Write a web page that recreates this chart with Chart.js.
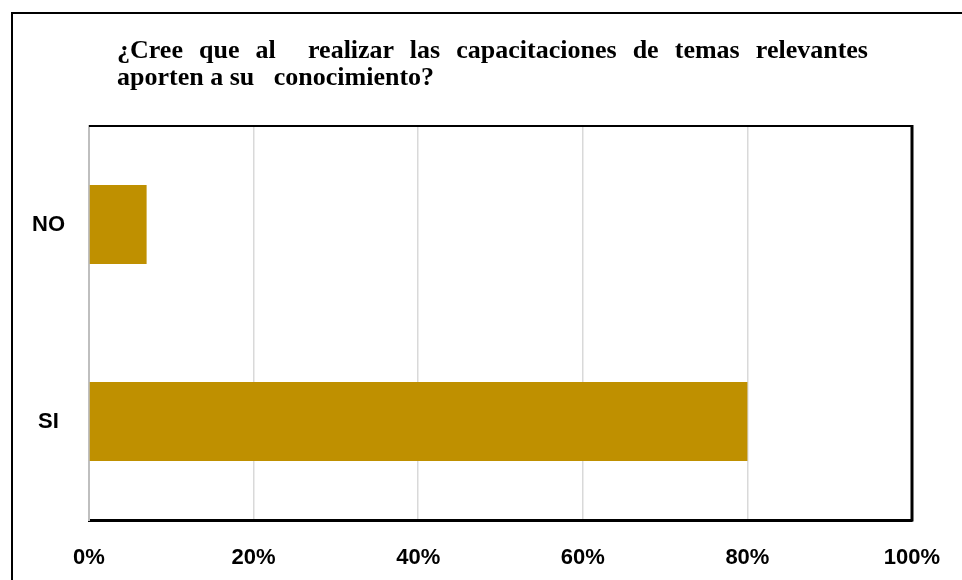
<!DOCTYPE html>
<html>
<head>
<meta charset="utf-8">
<script src="https://cdn.jsdelivr.net/npm/chart.js@4.4.1/dist/chart.umd.min.js"></script>
<style>
  html, body { margin: 0; padding: 0; background: #fff; overflow: hidden; }
  #wrap { position: relative; width: 962px; height: 580px; }
  #frame { position: absolute; left: 11px; top: 12px; width: 1000px; height: 1000px; border-left: 2px solid #000; border-top: 2px solid #000; }
  #surveyChart { position: absolute; left: 0; top: 0; }
  #title { position: absolute; left: 117px; top: 36px; width: 751px; font-family: 'Liberation Serif', 'Times New Roman', serif; font-weight: bold; font-size: 26px; line-height: 27px; color: #000; }
  #title .l1 { text-align: justify; text-align-last: justify; white-space: normal; }
  #title .l2 { text-align: left; white-space: pre; }
</style>
</head>
<body>
<div id="wrap">
  <div id="frame"></div>
  <canvas id="surveyChart" width="962" height="580"></canvas>
  <div id="title">
    <div class="l1">¿Cree que al&nbsp; realizar las capacitaciones de temas relevantes</div>
    <div class="l2">aporten a su   conocimiento?</div>
  </div>
</div>
<script>
  // datos de la encuesta
  const categories = ['NO', 'SI'];
  const percentValues = [7, 80];
  const xTicks = [0, 20, 40, 60, 80, 100];

  const tickFont = { family: "'Liberation Sans', Arial, sans-serif", size: 22, weight: 'bold' };

  // bordes superior y derecho del área de trazado
  const plotFrame = {
    id: 'plotFrame',
    afterDraw(chart) {
      const { ctx, chartArea: a } = chart;
      ctx.save();
      ctx.strokeStyle = '#000';
      ctx.lineWidth = 2;
      ctx.beginPath();
      ctx.moveTo(a.left, a.top);
      ctx.lineTo(a.right, a.top);
      ctx.stroke();
      ctx.lineWidth = 3;
      ctx.beginPath();
      ctx.moveTo(a.right, a.top - 1);
      ctx.lineTo(a.right, a.bottom + 1.5);
      ctx.stroke();
      ctx.restore();
    }
  };

  new Chart(document.getElementById('surveyChart'), {
    type: 'bar',
    data: {
      labels: categories,
      datasets: [{
        data: percentValues,
        backgroundColor: '#BF9000',
        borderWidth: 0,
        barPercentage: 0.4,
        categoryPercentage: 1
      }]
    },
    options: {
      indexAxis: 'y',
      responsive: false,
      animation: false,
      layout: { padding: { left: 11, top: 126, right: 50, bottom: 0 } },
      plugins: { legend: { display: false }, tooltip: { enabled: false } },
      scales: {
        x: {
          min: 0,
          max: 100,
          afterBuildTicks(scale) { scale.ticks = xTicks.map(v => ({ value: v })); },
          afterFit(scale) {
            scale.height = 60;
            scale.paddingLeft = 0;
            scale.paddingRight = 0;
          },
          grid: {
            drawTicks: false,
            lineWidth: 1.5,
            color: ctx => (ctx.tick && (ctx.tick.value === 0 || ctx.tick.value === 100)) ? 'rgba(0,0,0,0)' : '#d9d9d9'
          },
          border: { color: '#000', width: 3 },
          ticks: {
            padding: 25,
            color: '#000',
            font: tickFont,
            maxRotation: 0,
            callback: v => v + '%'
          }
        },
        y: {
          afterFit(scale) { scale.width = 78; },
          grid: { display: false, drawTicks: false },
          border: { color: '#bfbfbf', width: 2 },
          ticks: {
            padding: 24,
            crossAlign: 'center',
            color: '#000',
            font: tickFont
          }
        }
      }
    },
    plugins: [plotFrame]
  });
</script>
</body>
</html>
